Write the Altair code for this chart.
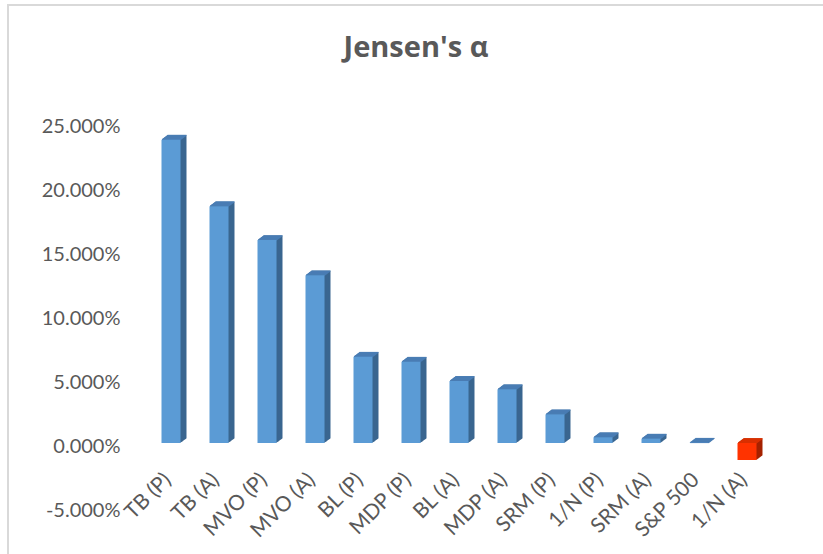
import altair as alt
import pandas as pd

categories = ["TB (P)", "TB (A)", "MVO (P)", "MVO (A)", "BL (P)", "MDP (P)", "BL (A)",
              "MDP (A)", "SRM (P)", "1/N (P)", "SRM (A)", "S&P 500", "1/N (A)"]
alpha = [0.2370, 0.1850, 0.1585, 0.1310, 0.0674, 0.0635, 0.0485,
         0.0420, 0.0224, 0.0045, 0.0034, 0.0002, -0.0133]
y_ticks = [-0.05, 0.0, 0.05, 0.10, 0.15, 0.20, 0.25]
title_text = "Jensen's α"

df = pd.DataFrame({"cat": categories, "v": alpha})
df["top"] = df["v"].clip(lower=0)
df["zero"] = 0.0

GRAY = "#595959"
FRONT = ("#5B9BD5", "#FF3300")
SIDE = ("#3B6690", "#A52300")
TOP = ("#4A7DB4", "#D93000")

x_enc = alt.X("cat:N", sort=categories, axis=None,
              scale=alt.Scale(paddingInner=0, paddingOuter=0))
y_scale = alt.Scale(domain=[-0.05, 0.25], nice=False, zero=False)
y_axis = alt.Axis(values=y_ticks, format=".3%", title=None, grid=False, domain=False,
                  ticks=False, labelPadding=27, labelFont="Lato", labelFontSize=20,
                  labelColor=GRAY, labelExpr="replace(datum.label, '−', '-')")


def col(pair):
    return alt.condition(alt.datum.v < 0, alt.value(pair[1]), alt.value(pair[0]))


base = alt.Chart(df)
DX, DY, N, BW, Z = 6.0, 4.5, 10, 19, -3

layers = []
# side faces (stacked offset copies)
for k in range(N, 0, -1):
    s = k / N
    layers.append(
        base.mark_bar(size=BW, xOffset=DX * s, yOffset=Z - DY * s, y2Offset=Z - DY * s).encode(
            x=x_enc, y=alt.Y("v:Q", scale=y_scale, axis=y_axis), y2="zero:Q", color=col(SIDE)
        )
    )
# top faces (thin strips)
for k in range(1, N + 1):
    s = k / N
    layers.append(
        base.mark_bar(size=BW, xOffset=DX * s, yOffset=Z - DY * s - 0.35,
                      y2Offset=Z - DY * (k - 1) / N + 0.35).encode(
            x=x_enc, y=alt.Y("top:Q", scale=y_scale, axis=y_axis), y2="top:Q", color=col(TOP)
        )
    )
# front faces
layers.append(
    base.mark_bar(size=BW, yOffset=Z, y2Offset=Z).encode(
        x=x_enc, y=alt.Y("v:Q", scale=y_scale, axis=y_axis), y2="zero:Q", color=col(FRONT)
    )
)
# category labels at the zero line
layers.append(
    base.mark_text(angle=315, align="right", baseline="middle", font="Lato", fontSize=21,
                   color=GRAY, xOffset=-3, yOffset=31).encode(
        x=x_enc, y=alt.Y(datum=0, scale=y_scale, axis=y_axis), text="cat:N"
    )
)
# title
layers.append(
    alt.Chart(pd.DataFrame({"t": [title_text]})).mark_text(
        font="Open Sans", fontSize=29, fontWeight="bold", color=GRAY, align="center",
        baseline="middle").encode(x=alt.value(269), y=alt.value(-78), text="t:N")
)
# chart border
layers.append(
    alt.Chart(pd.DataFrame({"a": [0]})).mark_rect(
        fill="transparent", stroke="#D9D9D9", strokeWidth=2).encode(
        x=alt.value(-139), x2=alt.value(700), y=alt.value(-121), y2=alt.value(500))
)

chart = alt.layer(*layers).properties(
    width=624, height=384,
    autosize=alt.AutoSizeParams(type="none"),
    padding={"left": 147, "top": 126, "right": 52, "bottom": 44},
    background="white",
).configure_view(stroke=None)

chart.save("out.html", embed_options={"renderer": "svg", "actions": False})
